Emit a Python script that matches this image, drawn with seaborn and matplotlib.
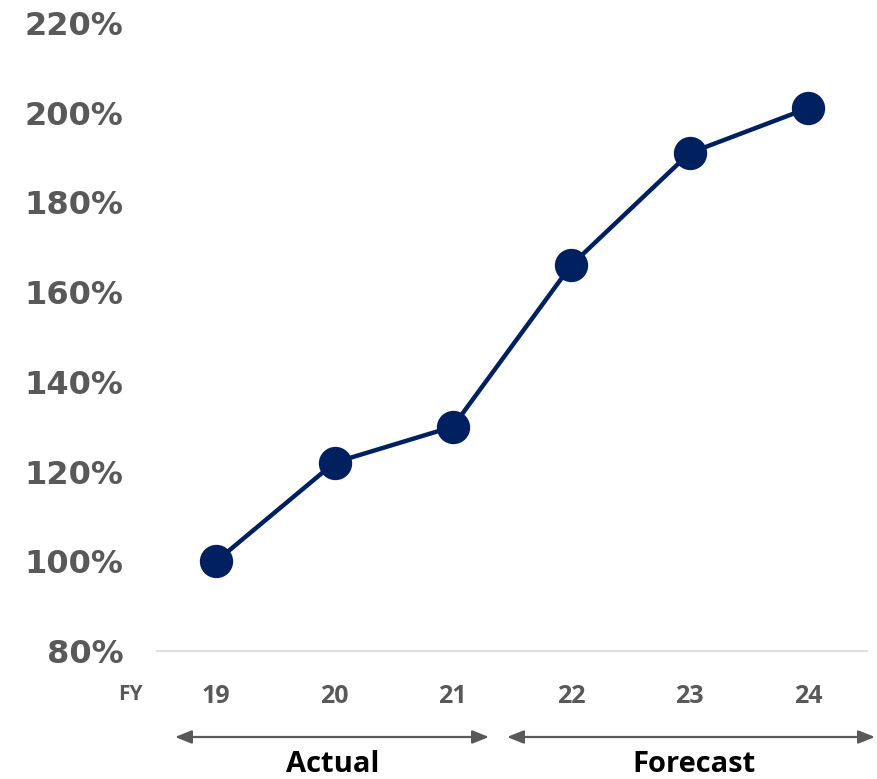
import matplotlib
matplotlib.use("Agg")
import matplotlib.pyplot as plt
import seaborn as sns
import pandas as pd
from matplotlib.ticker import FuncFormatter

# ---- data ----
fiscal_years = [19, 20, 21, 22, 23, 24]
index_values = [100, 122, 130, 166, 191, 201]
y_ticks = [80, 100, 120, 140, 160, 180, 200, 220]
period_labels = ["Actual", "Forecast"]

df = pd.DataFrame({"FY": fiscal_years, "value": index_values})

sns.set_theme(style="white")
plt.rcParams['font.family'] = ['DejaVu Sans']

W, H = 877, 779
fig = plt.figure(figsize=(W / 100, H / 100), dpi=100)
ax = fig.add_axes([157 / W, 1 - 651 / H, (867 - 157) / W, (651 - 23) / H])

navy = "#002060"
gray = "#595959"

sns.lineplot(data=df, x="FY", y="value", ax=ax, color=navy, linewidth=3.2,
             marker="o", markersize=24, markeredgewidth=0)

ax.set_xlim(18.5, 24.5)
ax.set_ylim(80, 220)
ax.set_yticks(y_ticks)
ax.yaxis.set_major_formatter(FuncFormatter(lambda v, p: f"{int(v)}%"))
ax.set_xticks(fiscal_years)
ax.set_xticklabels([str(v) for v in fiscal_years])
ax.set_xlabel("")
ax.set_ylabel("")

for s in ["top", "right", "left"]:
    ax.spines[s].set_visible(False)
ax.spines["bottom"].set_color("#d9d9d9")
ax.spines["bottom"].set_linewidth(1.2)

ax.tick_params(axis="y", length=0, pad=24, labelsize=23, labelcolor=gray)
ax.tick_params(axis="x", length=0, pad=24, labelsize=18, labelcolor=gray)
for lab in ax.get_yticklabels():
    lab.set_fontweight("bold")
for lab in ax.get_xticklabels():
    lab.set_fontweight("bold")
    lab.set_family("Open Sans")

# FY label
fig.text(130 / W, 1 - 695 / H, "FY", ha="center", va="center",
         fontsize=15, fontweight="bold", color=gray, family="Open Sans")

# arrows
ay = 1 - 737 / H
for x0, x1 in [(175, 489), (507, 875)]:
    ax.annotate("", xy=(x1 / W, ay), xytext=(x0 / W, ay),
                xycoords=fig.transFigure, textcoords=fig.transFigure,
                arrowprops=dict(arrowstyle="<|-|>,head_length=0.5,head_width=0.2",
                                mutation_scale=20, color=gray, lw=1.6,
                                shrinkA=0, shrinkB=0),
                annotation_clip=False)

# period labels
for label, cx in zip(period_labels, [333, 694]):
    fig.text(cx / W, 1 - 765 / H, label, ha="center", va="center",
             fontsize=21, fontweight="bold", color="black", family="Open Sans")

fig.savefig("out.png", dpi=100)
